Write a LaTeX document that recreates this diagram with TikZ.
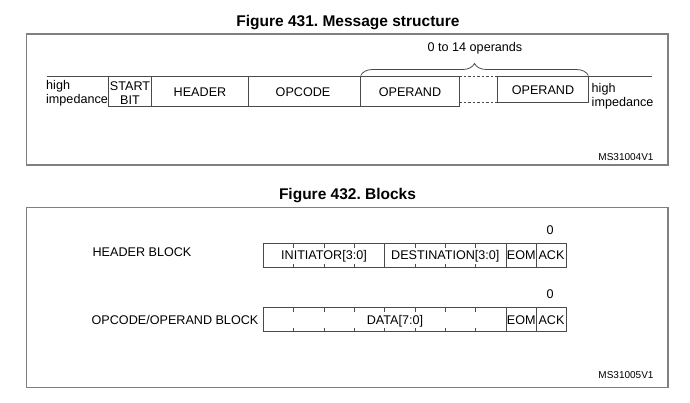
\documentclass[tikz,border=0pt]{standalone}
\usepackage{fontspec}
\setmainfont{Liberation Sans}
\usetikzlibrary{decorations.pathreplacing}
\definecolor{lncol}{HTML}{4A4A4A}
\definecolor{frcol}{HTML}{808080}
\frenchspacing
\begin{document}
\begin{tikzpicture}[x=1pt,y=-1pt,
  ln/.style={draw=lncol,line width=0.8pt},
  frame/.style={draw=frcol,line width=1.1pt},
  dsh/.style={draw=lncol,line width=0.8pt,dash pattern=on 2.5pt off 2pt},
  tick/.style={draw=lncol,line width=0.7pt},
  title/.style={font=\fontsize{15.5}{18}\selectfont\bfseries,inner sep=0pt,anchor=base},
  lbl/.style={font=\fontsize{12.6}{13.6}\selectfont,inner sep=0pt,anchor=base},
  lblm/.style={font=\fontsize{12.6}{13.6}\selectfont,inner sep=0pt,align=center},
  lbll/.style={font=\fontsize{12.6}{13.6}\selectfont,inner sep=0pt,align=left},
  ms/.style={font=\fontsize{10}{11}\selectfont,inner sep=0pt,anchor=base}]
\useasboundingbox (0,0) rectangle (690,402);

% ---------- Figure 431 ----------
\node[title] (t1) at (348,26.5) {Figure 431. Message structure};
\draw[frame] (26.7,34) rectangle (668,165);

\draw[ln] (46.7,76.7) -- (459,76.7);
\draw[dsh] (459,76.7) -- (497,76.7);
\draw[ln] (497,76.7) -- (652,76.7);
\draw[ln] (108,76.7) -- (108,106) -- (459,106) -- (459,76.7);
\foreach \x in {151.7,248,360.7} \draw[ln] (\x,76.7) -- (\x,106);
\draw[dsh] (459,102.7) -- (497,102.7);
\draw[ln] (497,76.7) rectangle (588.3,102.7);

\draw[ln,decorate,decoration={brace,amplitude=12pt,aspect=0.5}] (360.7,75.5) -- (588.3,75.5);
\node[lbl] (ops) at (475,51.5) {0 to 14 operands};

\node[lbll,anchor=west] (hi1) at (46,93) {high\\impedance};
\node[lblm] (start) at (130,93) {START\\BIT};
\node[lbl] (hdr) at (200,96) {HEADER};
\node[lbl] (opc) at (303,96) {OPCODE};
\node[lbl] (op1) at (410,96) {OPERAND};
\node[lbl] (op2) at (543,94.5) {OPERAND};
\node[lbll,anchor=west] (hi2) at (591.5,96) {high\\impedance};
\node[ms] (ms1) at (626,160) {MS31004V1};

% ---------- Figure 432 ----------
\node[title] (t2) at (347.5,199.5) {Figure 432. Blocks};
\draw[frame] (26.7,207.7) rectangle (668,387.7);

\node[lbl] (hb) at (142,256.5) {HEADER BLOCK};
\node[lbl] (ob) at (175,324) {OPCODE/OPERAND BLOCK};

% header block
\draw[ln] (263.3,243) rectangle (566.6,267);
\foreach \x in {384.6,506,536.3} \draw[ln] (\x,243) -- (\x,267);
\foreach \x in {293.6,324,354.3,415,445.3,475.6} {
  \draw[tick] (\x,243) -- (\x,247.5);
  \draw[tick] (\x,267) -- (\x,263.5);
}
\node[lbl] (ini) at (324,259.5) {INITIATOR[3:0]};
\node[lbl] (dst) at (445.3,259.5) {DESTINATION[3:0]};
\node[lbl] (eom1) at (521.2,259.5) {EOM};
\node[lbl] (ack1) at (551.5,259.5) {ACK};
\node[lbl] (z1) at (550,234) {0};

% opcode/operand block
\draw[ln] (263.3,307.5) rectangle (566.6,331.7);
\foreach \x in {506,536.3} \draw[ln] (\x,307.5) -- (\x,331.7);
\foreach \x in {293.6,324,354.3,384.6,415,445.3,475.6} {
  \draw[tick] (\x,307.5) -- (\x,312);
  \draw[tick] (\x,331.7) -- (\x,328.2);
}
\node[lbl] (dat) at (395,324) {DATA[7:0]};
\node[lbl] (eom2) at (521.2,324) {EOM};
\node[lbl] (ack2) at (551.5,324) {ACK};
\node[lbl] (z2) at (550,298.5) {0};

\node[ms] (ms2) at (626,378.6) {MS31005V1};
\end{tikzpicture}
\end{document}
